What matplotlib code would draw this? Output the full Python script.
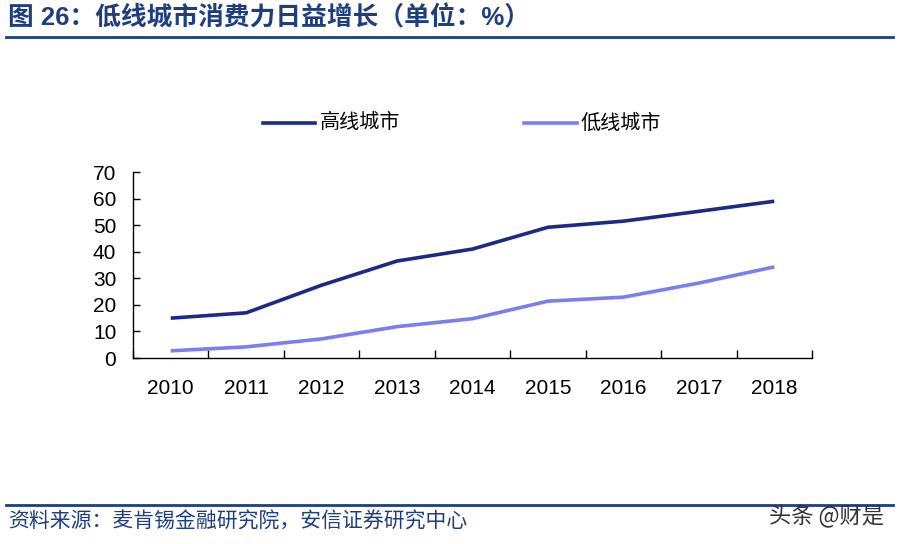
import matplotlib
matplotlib.use("Agg")
import matplotlib.pyplot as plt
from matplotlib.lines import Line2D

plt.rcParams['font.family'] = ['Liberation Sans', 'Noto Sans CJK SC', 'DejaVu Sans']

years = ['2010', '2011', '2012', '2013', '2014', '2015', '2016', '2017', '2018']
high_city = [15.0, 17.0, 27.4, 36.5, 41.0, 49.2, 51.5, 55.2, 59.0]
low_city = [2.7, 4.2, 7.2, 11.8, 14.8, 21.4, 22.9, 28.2, 34.3]
series_names = ['高线城市', '低线城市']

title = '图 26：低线城市消费力日益增长（单位：%）'
source = '资料来源：麦肯锡金融研究院，安信证券研究中心'
watermark = '头条 @财是'

c_high = '#1B2A8A'
c_low = '#7D7DF2'
c_title = '#1F3E7E'

fig = plt.figure(figsize=(8.99, 5.44), dpi=100)
ax = fig.add_axes([133/899, 1-358/544, (812-133)/899, (358-172)/544])

x = list(range(len(years)))
ax.plot(x, high_city, color=c_high, lw=2.6, solid_capstyle='butt')
ax.plot(x, low_city, color=c_low, lw=2.6, solid_capstyle='butt')

ax.set_xlim(-0.5, len(years) - 0.5)
ax.set_ylim(0, 70)
ax.set_yticks(range(0, 71, 10))
ax.set_xticks(x)
ax.set_xticklabels(years)
ax.set_xticks([i + 0.5 for i in range(-1, len(years))], minor=True)
ax.tick_params(axis='x', which='major', length=0, pad=15, labelsize=15)
ax.tick_params(axis='x', which='minor', length=6, direction='in', width=1)
ax.tick_params(axis='y', length=5, direction='in', width=1, labelsize=15, pad=12)
for s in ['top', 'right']:
    ax.spines[s].set_visible(False)
for s in ['left', 'bottom']:
    ax.spines[s].set_linewidth(1)

# legend
fig.add_artist(Line2D([263/899, 315/899], [1-123/544]*2, color=c_high, lw=2.6))
fig.text(320/899, 1-123/544, series_names[0], fontsize=14.5, va='center', ha='left',
         family=['Noto Sans CJK SC'])
fig.add_artist(Line2D([524/899, 577/899], [1-123/544]*2, color=c_low, lw=2.6))
fig.text(581/899, 1-123/544, series_names[1], fontsize=14.5, va='center', ha='left',
         family=['Noto Sans CJK SC'])

# title
fig.text(8/899, 1-18/544, title, fontsize=18.5, fontweight='bold', color=c_title,
         va='center', ha='left', family=['Liberation Sans', 'Noto Sans CJK SC'])
fig.add_artist(Line2D([6/899, 893/899], [1-37/544]*2, color=c_title, lw=2))

# footer
fig.add_artist(Line2D([6/899, 893/899], [1-505/544]*2, color=c_title, lw=2))
fig.text(8/899, 1-522/544, source, fontsize=15, style='italic', color=c_title,
         va='center', ha='left', family=['Noto Sans CJK SC'])
fig.text(884/899, 1-517/544, watermark, fontsize=16, color='#333333',
         va='center', ha='right', family=['Noto Sans CJK SC'])

fig.savefig('out.png', dpi=100)
